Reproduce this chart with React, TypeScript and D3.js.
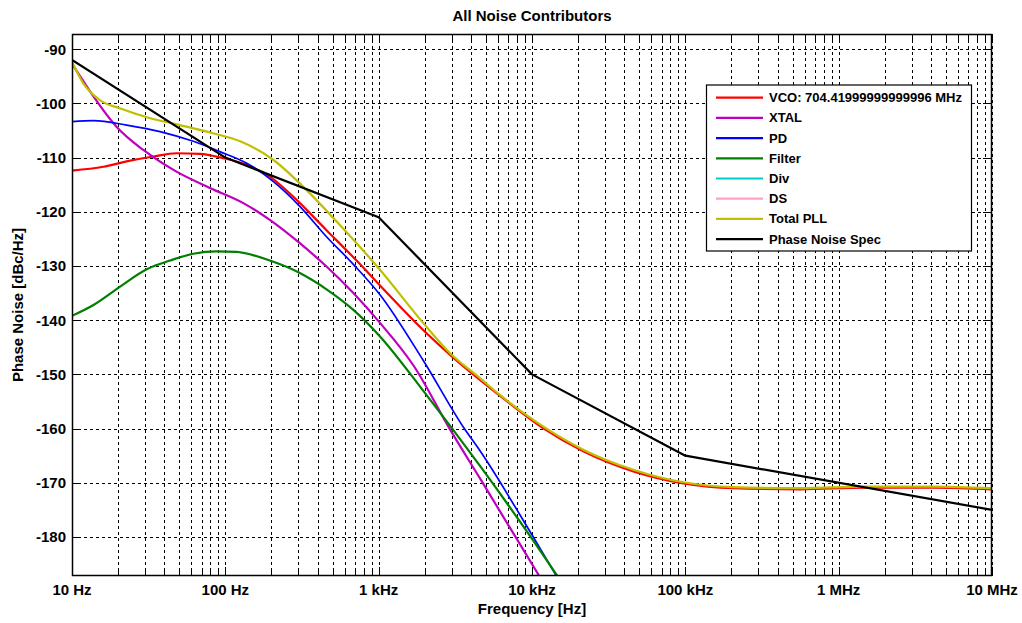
import React from 'react'
import * as d3 from 'd3'

// series values (frequency in Hz, noise in dBc/Hz)
const vcoFreq = [10, 16, 22.7, 33.9, 48, 68, 97, 137, 195, 277, 457, 752, 1020, 1950, 3090, 5850, 11800, 21600, 45800, 97000, 205000, 560000, 1.5e6, 4.2e6, 1e7]
const vcoDb = [-112.4, -111.7, -110.7, -109.8, -109.2, -109.3, -110.1, -111.3, -113.5, -117.2, -123.4, -129.6, -133.6, -141.8, -147.0, -153.4, -159.9, -164.2, -167.9, -170.1, -171.0, -171.2, -170.9, -170.9, -171.2]

const xtalFreq = [10, 11.8, 13.8, 19.5, 29.2, 48, 79.3, 131, 195, 306, 457, 684, 1020, 1700, 2925, 4580, 10200, 11600]
const xtalDb = [-92.7, -95.8, -98.7, -104.3, -108.6, -112.6, -115.6, -118.4, -121.5, -125.8, -130.1, -135.0, -140.5, -148.5, -160.2, -169.2, -185.4, -188]

const pdFreq = [10, 13.8, 22.7, 37.5, 61.8, 92, 137, 205, 306, 457, 684, 1020, 1950, 3600, 4580, 9700, 15000]
const pdDb = [-103.35, -103.2, -104.0, -105.2, -107.0, -108.9, -111.0, -114.4, -119.0, -124.6, -129.7, -135.3, -147.4, -159.9, -164.1, -179.0, -188]

const filterFreq = [10, 13.8, 20.6, 30.7, 43.6, 61.8, 87.9, 118, 195, 306, 457, 684, 1020, 1950, 4580, 9700, 15300]
const filterDb = [-139.2, -137.2, -133.8, -130.6, -129.0, -127.75, -127.3, -127.4, -129.0, -131.3, -134.3, -138.1, -143.0, -153.0, -166.9, -179.8, -188]

// Div and DS lie below the visible range in the reference: only their legend entries show
const divFreq: number[] = []
const divDb: number[] = []
const dsFreq: number[] = []
const dsDb: number[] = []

const totalFreq = [10, 11.85, 15.2, 20.5, 32, 50.6, 83, 125, 205, 339, 532, 1020, 1950, 2925, 4580, 6180, 10200, 21600, 45800, 97000, 205000, 560000, 1.5e6, 4.2e6, 1e7]
const totalDb = [-92.3, -96.3, -99.4, -100.9, -102.7, -104.0, -105.5, -107.0, -110.4, -116.0, -121.8, -130.7, -140.5, -146.1, -150.7, -153.8, -158.4, -163.9, -167.6, -169.9, -170.8, -171.0, -170.7, -170.7, -171.0]

const specFreq = [10, 100, 1000, 10000, 100000, 1e7]
const specDb = [-92, -110, -121, -150, -165, -175]

const seriesNames = ['VCO: 704.41999999999996 MHz', 'XTAL', 'PD', 'Filter', 'Div', 'DS', 'Total PLL', 'Phase Noise Spec']
const seriesColors = ['#ff0000', '#c000c0', '#0000ff', '#008000', '#00cccc', '#ffa0c8', '#c0c000', '#000000']
const seriesFreqs = [vcoFreq, xtalFreq, pdFreq, filterFreq, divFreq, dsFreq, totalFreq, specFreq]
const seriesDbs = [vcoDb, xtalDb, pdDb, filterDb, divDb, dsDb, totalDb, specDb]

const yTicks = [-90, -100, -110, -120, -130, -140, -150, -160, -170, -180]
const xTickValues = [10, 100, 1000, 10000, 100000, 1e6, 1e7]
const xTickLabels = ['10 Hz', '100 Hz', '1 kHz', '10 kHz', '100 kHz', '1 MHz', '10 MHz']

const W = 1022
const H = 623
const margin = { top: 34, right: 30, bottom: 47, left: 72 }
const font = '"Liberation Sans", Arial, sans-serif'

const App = () => {
  const x = d3.scaleLog().domain([10, 1e7]).range([margin.left, W - margin.right])
  const y = d3.scaleLinear().domain([-187.2, -87.2]).range([H - margin.bottom, margin.top])
  const [x0, x1] = x.range()
  const [y0, y1] = [margin.top, H - margin.bottom]

  // every 1..9 position of every decade
  const minorX: number[] = []
  for (let dec = 10; dec < 1e7; dec *= 10) {
    for (let k = 1; k < 10; k++) minorX.push(dec * k)
  }
  minorX.push(1e7)

  const makeLine = (curved: boolean) =>
    d3.line<[number, number]>()
      .x(d => x(d[0]))
      .y(d => y(d[1]))
      .curve(curved ? d3.curveMonotoneX : d3.curveLinear)

  const legend = { x: 706.5, y: 85, w: 265, h: 166, row: 20.2 }

  return (
    <svg width={W} height={H} style={{ display: 'block', position: 'absolute', left: 0, top: 0 }} fontFamily={font}>
      <defs>
        <clipPath id="plot">
          <rect x={x0} y={y0} width={x1 - x0} height={y1 - y0} />
        </clipPath>
      </defs>
      <rect x={0} y={0} width={W} height={H} fill="#fff" />
      <rect x={x0} y={y0} width={x1 - x0} height={y1 - y0} fill="#fff" />

      {/* grid */}
      <g stroke="#000" strokeWidth={1} strokeDasharray="3,3" fill="none">
        {minorX.map((f, i) => (
          <line key={'gx' + i} x1={Math.round(x(f)) + 0.5} x2={Math.round(x(f)) + 0.5} y1={y0} y2={y1} />
        ))}
        {yTicks.map(t => (
          <line key={'gy' + t} x1={x0} x2={x1} y1={Math.round(y(t)) + 0.5} y2={Math.round(y(t)) + 0.5} />
        ))}
      </g>

      {/* curves */}
      <g clipPath="url(#plot)" fill="none" strokeLinejoin="round" strokeLinecap="round">
        {seriesFreqs.map((fs, i) => {
          const pts = fs.map((f, j) => [f, seriesDbs[i][j]] as [number, number])
          if (!pts.length) return null
          const isSpec = i === seriesFreqs.length - 1
          return (
            <path key={seriesNames[i]} d={makeLine(!isSpec)(pts) || ''}
              stroke={seriesColors[i]} strokeWidth={i === 2 ? 1.7 : 2.2} />
          )
        })}
      </g>

      {/* axis box and ticks */}
      <g stroke="#000" strokeWidth={1}>
        <rect x={x0 + 0.5} y={y0 + 0.5} width={x1 - x0 - 1} height={y1 - y0 - 1} fill="none" strokeWidth={1.5} />
        {minorX.map((f, i) => {
          const px = Math.round(x(f)) + 0.5
          const len = xTickValues.includes(f) ? 9 : 6
          return (
            <g key={'tx' + i}>
              <line x1={px} x2={px} y1={y1} y2={y1 - len} />
              <line x1={px} x2={px} y1={y0} y2={y0 + len} />
            </g>
          )
        })}
        {yTicks.map(t => {
          const py = Math.round(y(t)) + 0.5
          return (
            <g key={'ty' + t}>
              <line x1={x0} x2={x0 + 9} y1={py} y2={py} />
              <line x1={x1} x2={x1 - 9} y1={py} y2={py} />
            </g>
          )
        })}
      </g>

      {/* tick labels */}
      <g fontSize={15} fontWeight="bold" fill="#000">
        {yTicks.map(t => (
          <text key={'ly' + t} x={x0 - 6} y={y(t)} textAnchor="end" dominantBaseline="central">{t}</text>
        ))}
        {xTickValues.map((f, i) => (
          <text key={'lx' + f} x={x(f)} y={595} textAnchor="middle">{xTickLabels[i]}</text>
        ))}
      </g>

      <text x={(x0 + x1) / 2} y={21} textAnchor="middle" fontSize={15} fontWeight="bold">All Noise Contributors</text>
      <text x={(x0 + x1) / 2} y={614} textAnchor="middle" fontSize={15} fontWeight="bold">Frequency [Hz]</text>
      <text transform={`translate(23,${(y0 + y1) / 2}) rotate(-90)`} textAnchor="middle" fontSize={15} fontWeight="bold">Phase Noise [dBc/Hz]</text>

      {/* legend */}
      <g>
        <rect x={legend.x} y={legend.y} width={legend.w} height={legend.h} fill="#fff" stroke="#000" strokeWidth={1.2} />
        {seriesNames.map((name, i) => {
          const ry = legend.y + 12.7 + i * legend.row
          return (
            <g key={'lg' + i}>
              <line x1={716} x2={763} y1={ry} y2={ry} stroke={seriesColors[i]} strokeWidth={2.2} />
              <text x={769} y={ry} dominantBaseline="central" fontSize={13} fontWeight="bold">{name}</text>
            </g>
          )
        })}
      </g>
    </svg>
  )
}

export default App
